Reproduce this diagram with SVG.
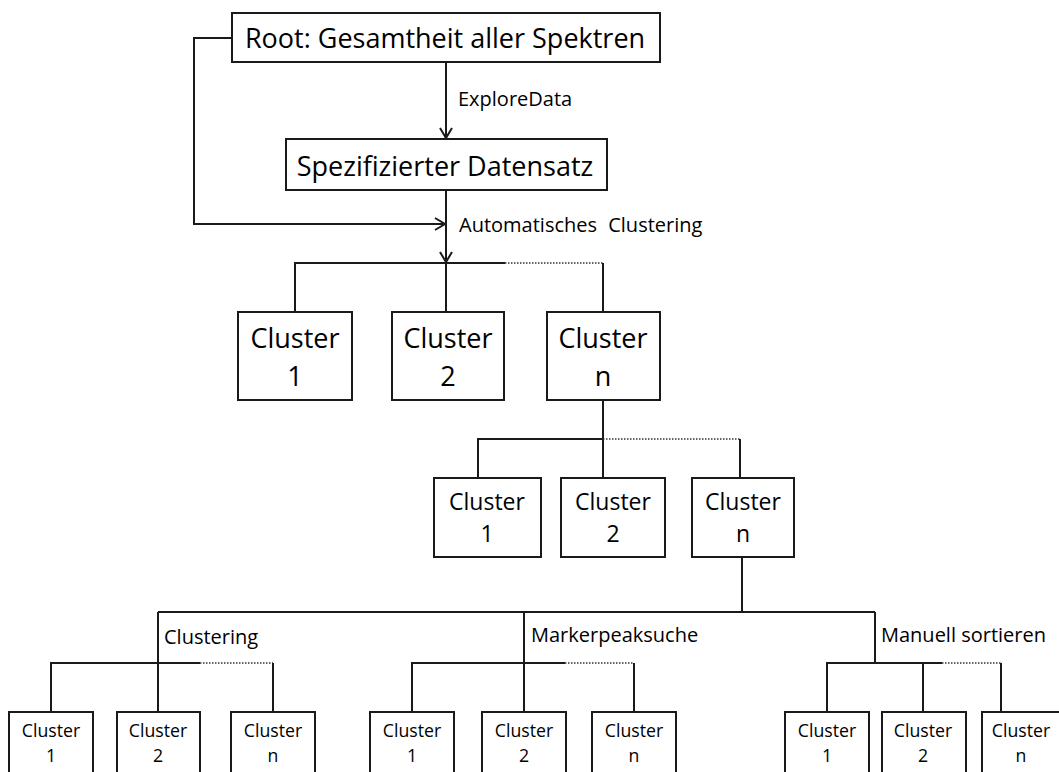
<svg xmlns="http://www.w3.org/2000/svg" width="1059" height="772" viewBox="0 0 1059 772">
<style>
text{font-family:"Open Sans","Noto Sans",sans-serif;fill:#000}
.box{fill:#fff;stroke:#1a1a1a;stroke-width:2}
.ln{fill:none;stroke:#1a1a1a;stroke-width:2}
.dot{fill:none;stroke:#333;stroke-width:1.5;stroke-dasharray:1.5 1.5}
.t1{font-size:27px;text-anchor:middle}
.t2{font-size:23px;text-anchor:middle}
.t3{font-size:17.7px;text-anchor:middle}
.lbl{font-size:20px}
.lbl3{font-size:20px}
</style>
<defs>
<marker id="arr" markerUnits="userSpaceOnUse" markerWidth="14" markerHeight="16" refX="11" refY="7" orient="auto">
<path d="M1,1 L11,7 L1,13" fill="none" stroke="#1a1a1a" stroke-width="2"/>
</marker>
</defs>
<g id="connectors">
<path class="ln" d="M232,38 H194 V224 H445" marker-end="url(#arr)"/>
<path class="ln" d="M446,62 V138" marker-end="url(#arr)"/>
<path class="ln" d="M446,190 V262" marker-end="url(#arr)"/>
<path class="ln" d="M295,312 V263 H505"/>
<path class="dot" d="M505,263 H603"/>
<path class="ln" d="M446,263 V312 M603,263 V312"/>
<path class="ln" d="M603,400 V478 M478,478 V439 H603"/>
<path class="dot" d="M603,439 H740"/>
<path class="ln" d="M740,439 V478"/>
<path class="ln" d="M742,557 V612 M158,612 H875 M158,612 V712 M524,612 V712 M875,612 V663"/>
<path class="ln" d="M51,712 V663 H200"/>
<path class="dot" d="M200,663 H273"/>
<path class="ln" d="M273,663 V712"/>
<path class="ln" d="M412,712 V663 H565"/>
<path class="dot" d="M565,663 H634"/>
<path class="ln" d="M634,663 V712"/>
<path class="ln" d="M827,712 V663 H942"/>
<path class="dot" d="M942,663 H1001"/>
<path class="ln" d="M923,663 V712 M1001,663 V712"/>
<text class="lbl" x="458" y="106">ExploreData</text>
<text class="lbl" x="459" y="232" word-spacing="6">Automatisches Clustering</text>
<text class="lbl3" x="164" y="644">Clustering</text>
<text class="lbl3" x="531" y="642">Markerpeaksuche</text>
<text class="lbl3" x="881" y="642">Manuell sortieren</text>
</g>
<g id="root">
<rect class="box" x="232" y="13" width="428" height="49"/>
<text class="t1" x="445" y="48">Root: Gesamtheit aller Spektren</text>
</g>
<g id="spez">
<rect class="box" x="286" y="139" width="321" height="51"/>
<text class="t1" x="445" y="176">Spezifizierter Datensatz</text>
</g>
<g id="c1">
<rect class="box" x="238" y="312" width="114" height="88"/>
<text class="t1" x="295" y="348">Cluster</text><text class="t1" x="295" y="386">1</text>
</g>
<g id="c2">
<rect class="box" x="392" y="312" width="112" height="88"/>
<text class="t1" x="448" y="348">Cluster</text><text class="t1" x="448" y="386">2</text>
</g>
<g id="cn">
<rect class="box" x="547" y="312" width="113" height="88"/>
<text class="t1" x="603" y="348">Cluster</text><text class="t1" x="603" y="386">n</text>
</g>
<g id="cn1">
<rect class="box" x="434" y="478" width="107" height="79"/>
<text class="t2" x="487" y="510">Cluster</text><text class="t2" x="487" y="542">1</text>
</g>
<g id="cn2">
<rect class="box" x="561" y="478" width="104" height="79"/>
<text class="t2" x="613" y="510">Cluster</text><text class="t2" x="613" y="542">2</text>
</g>
<g id="cnn">
<rect class="box" x="692" y="478" width="102" height="79"/>
<text class="t2" x="743" y="510">Cluster</text><text class="t2" x="743" y="542">n</text>
</g>
<g id="a1">
<rect class="box" x="9" y="712" width="84" height="80"/>
<text class="t3" x="51" y="737">Cluster</text><text class="t3" x="51" y="762">1</text>
</g>
<g id="a2">
<rect class="box" x="117" y="712" width="83" height="80"/>
<text class="t3" x="158" y="737">Cluster</text><text class="t3" x="158" y="762">2</text>
</g>
<g id="an">
<rect class="box" x="231" y="712" width="84" height="80"/>
<text class="t3" x="273" y="737">Cluster</text><text class="t3" x="273" y="762">n</text>
</g>
<g id="b1">
<rect class="box" x="370" y="712" width="84" height="80"/>
<text class="t3" x="412" y="737">Cluster</text><text class="t3" x="412" y="762">1</text>
</g>
<g id="b2">
<rect class="box" x="482" y="712" width="84" height="80"/>
<text class="t3" x="524" y="737">Cluster</text><text class="t3" x="524" y="762">2</text>
</g>
<g id="bn">
<rect class="box" x="592" y="712" width="84" height="80"/>
<text class="t3" x="634" y="737">Cluster</text><text class="t3" x="634" y="762">n</text>
</g>
<g id="m1">
<rect class="box" x="785" y="712" width="84" height="80"/>
<text class="t3" x="827" y="737">Cluster</text><text class="t3" x="827" y="762">1</text>
</g>
<g id="m2">
<rect class="box" x="882" y="712" width="84" height="80"/>
<text class="t3" x="923" y="737">Cluster</text><text class="t3" x="923" y="762">2</text>
</g>
<g id="mn">
<rect class="box" x="982" y="712" width="84" height="80"/>
<text class="t3" x="1021" y="737">Cluster</text><text class="t3" x="1021" y="762">n</text>
</g>
</svg>
